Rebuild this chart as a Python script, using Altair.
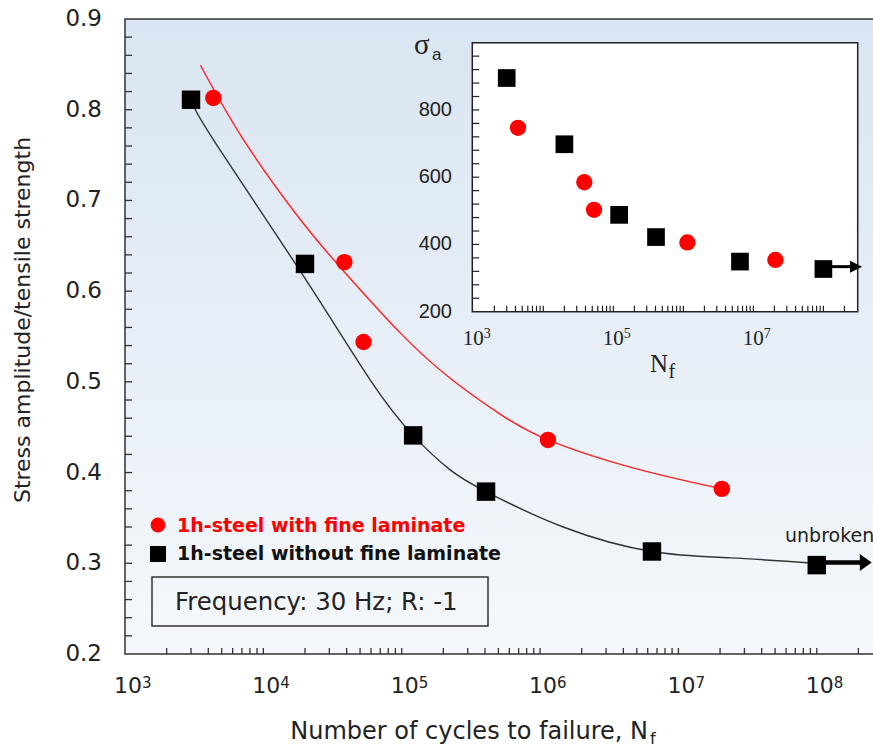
import altair as alt
import pandas as pd

# ---------------- data ----------------
# main chart: stress amplitude / tensile strength vs cycles to failure
fine_cycles = [4.35e3, 3.85e4, 5.3e4, 1.14e6, 2.06e7]
fine_ratio = [0.813, 0.632, 0.544, 0.436, 0.382]
plain_cycles = [3.0e3, 2.0e4, 1.21e5, 4.07e5, 6.44e6, 1.0e8]
plain_ratio = [0.811, 0.630, 0.441, 0.379, 0.313, 0.298]

# fitted curves, sampled along the drawn lines
fine_fit_cycles = [3.51e3, 7.18e3, 1.85e4, 3.91e4, 9.75e4, 2.24e5, 5.14e5, 1.14e6, 4.47e6, 2.06e7]
fine_fit_ratio = [0.849, 0.767, 0.679, 0.620, 0.554, 0.504, 0.4645, 0.436, 0.406, 0.382]
plain_fit_cycles = [3.02e3, 4.35e3, 1.85e4, 5.93e4, 1.21e5, 2.24e5, 4.07e5, 1.47e6, 6.44e6, 2.36e7, 9.7e7]
plain_fit_ratio = [0.811, 0.767, 0.622, 0.502, 0.441, 0.403, 0.379, 0.340, 0.313, 0.306, 0.300]

# "unbroken" run-out arrow (main chart)
arrow_cycles = [1.0e8, 2.2e8]
arrow_ratio = [0.301, 0.301]
arrow_head_cycles = [2.26e8]

# inset: stress amplitude sigma_a (MPa) vs cycles
inset_fine_sigma = [747, 585, 503, 406, 354]
inset_plain_sigma = [895, 698, 488, 422, 349, 327]
inset_arrow_cycles = [1.0e8, 2.8e8]
inset_arrow_sigma = [334, 334]
inset_arrow_head_cycles = [2.93e8]

# axes
main_x_domain = [1e3, 2.55e8]
main_y_domain = [0.2, 0.9]
main_y_major = [0.2, 0.3, 0.4, 0.5, 0.6, 0.7, 0.8, 0.9]
main_y_labels = ["0.2", "0.3", "0.4", "0.5", "0.6", "0.7", "0.8", "0.9"]
main_y_minor = [round(0.22 + 0.02 * i, 2) for i in range(34)]
main_x_decades = [1e3, 1e4, 1e5, 1e6, 1e7, 1e8]
main_x_exponents = ["3", "4", "5", "6", "7", "8"]
main_x_ticks = [m * 10 ** e for e in range(3, 9) for m in range(1, 10)
                if 1e3 < m * 10 ** e <= 2.5e8]

inset_x_domain = [968, 3.09e8]
inset_y_domain = [200, 1000]
inset_y_major = [200, 400, 600, 800]
inset_y_labels = ["200", "400", "600", "800"]
inset_y_minor = list(range(240, 1000, 40))
inset_x_decades = [1e3, 1e5, 1e7]
inset_x_exponents = ["3", "5", "7"]
inset_x_ticks = [m * 10 ** e for e in range(3, 9) for m in range(1, 10)
                 if 1e3 < m * 10 ** e <= 2e8]

legend_labels = ["1h-steel with fine laminate", "1h-steel without fine laminate"]
note_text = "Frequency: 30 Hz; R: -1"
y_title = "Stress amplitude/tensile strength"
x_title = "Number of cycles to failure, N"

# ---------------- layout ----------------
W, H = 748, 635
SANS = "DejaVu Sans"
SERIF = "Liberation Serif"
AX = "#333333"

xs = alt.Scale(type="log", domain=main_x_domain)
ys = alt.Scale(domain=main_y_domain)
IX0, IX1, IY0, IY1 = 347.3, 732.7, 292.7, 23.7
xsi = alt.Scale(type="log", domain=inset_x_domain, range=[IX0, IX1])
ysi = alt.Scale(domain=inset_y_domain, range=[IY0, IY1])

one = pd.DataFrame({"k": [0]})


def X(f, s):
    return alt.X(f, type="quantitative", scale=s, axis=None)


def Y(f, s):
    return alt.Y(f, type="quantitative", scale=s, axis=None)


grad = alt.LinearGradient(
    gradient="linear",
    stops=[alt.GradientStop(offset=0, color="#d9e5f2"),
           alt.GradientStop(offset=1, color="#f5f8fc")],
    x1=0, x2=0, y1=0, y2=1,
)

bg = alt.Chart(one).mark_rect(fill=grad, stroke=AX, strokeWidth=1.5).encode(
    x=alt.value(0), x2=alt.value(W + 10), y=alt.value(0), y2=alt.value(H)
)

fine_fit = pd.DataFrame({"n": fine_fit_cycles, "r": fine_fit_ratio})
plain_fit = pd.DataFrame({"n": plain_fit_cycles, "r": plain_fit_ratio})
fine_df = pd.DataFrame({"n": fine_cycles, "r": fine_ratio})
plain_df = pd.DataFrame({"n": plain_cycles, "r": plain_ratio})

fine_line = alt.Chart(fine_fit).mark_line(
    interpolate="natural", color="#ff2020", strokeWidth=1.4
).encode(x=X("n", xs), y=Y("r", ys), order="n:Q")
plain_line = alt.Chart(plain_fit).mark_line(
    interpolate="natural", color="#333333", strokeWidth=1.4
).encode(x=X("n", xs), y=Y("r", ys), order="n:Q")

arrow = alt.Chart(pd.DataFrame({"n": [arrow_cycles[0]], "n2": [arrow_cycles[1]],
                                "r": [arrow_ratio[0]]})).mark_rule(
    color="#000", strokeWidth=4.5
).encode(x=X("n", xs), x2="n2:Q", y=Y("r", ys))
arrow_head = alt.Chart(pd.DataFrame({"n": arrow_head_cycles, "r": [arrow_ratio[1]]})).mark_point(
    shape="M -0.7 -1 L 0.7 0 L -0.7 1 Z", filled=True, color="#000", opacity=1, size=289
).encode(x=X("n", xs), y=Y("r", ys))

fine_pts = alt.Chart(fine_df).mark_point(
    shape="circle", filled=True, color="#ff0000", opacity=1, size=270
).encode(x=X("n", xs), y=Y("r", ys))
plain_pts = alt.Chart(plain_df).mark_point(
    shape="square", filled=True, color="#000000", opacity=1, size=340
).encode(x=X("n", xs), y=Y("r", ys))

# ticks (inward) and labels of main axes
y_minor = alt.Chart(pd.DataFrame({"v": main_y_minor})).mark_rule(
    color=AX, strokeWidth=1.3
).encode(y=Y("v", ys), x=alt.value(0), x2=alt.value(7))
x_minor = alt.Chart(pd.DataFrame({"v": main_x_ticks})).mark_rule(
    color=AX, strokeWidth=1.3
).encode(x=X("v", xs), y=alt.value(H), y2=alt.value(H - 6))
y_lab = alt.Chart(pd.DataFrame({"v": main_y_major, "t": main_y_labels})).mark_text(
    align="right", baseline="middle", font=SANS, fontSize=23, color="#222"
).encode(y=Y("v", ys), x=alt.value(-23), text="t:N")
x_lab = alt.Chart(pd.DataFrame({"v": main_x_decades})).mark_text(
    align="center", baseline="alphabetic", font=SANS, fontSize=22, color="#222", dx=3
).encode(x=X("v", xs), y=alt.value(H + 39), text=alt.value("10"))
x_exp = alt.Chart(pd.DataFrame({"v": main_x_decades, "t": main_x_exponents})).mark_text(
    align="left", baseline="alphabetic", font=SANS, fontSize=15, color="#222", dx=17
).encode(x=X("v", xs), y=alt.value(H + 34), text="t:N")

y_tit = alt.Chart(one).mark_text(
    angle=270, align="center", baseline="middle", font=SANS, fontSize=22, color="#222"
).encode(x=alt.value(-102), y=alt.value(301), text=alt.value(y_title))
x_tit = alt.Chart(one).mark_text(
    align="right", baseline="alphabetic", font=SANS, fontSize=24, color="#222"
).encode(x=alt.value(523), y=alt.value(H + 85), text=alt.value(x_title))
x_tit_sub = alt.Chart(one).mark_text(
    align="left", baseline="alphabetic", font=SANS, fontSize=16, color="#222"
).encode(x=alt.value(525), y=alt.value(H + 90), text=alt.value("f"))

# legend and note
leg_c = alt.Chart(one).mark_point(shape="circle", filled=True, color="#ff0000",
                                  opacity=1, size=219).encode(
    x=alt.value(33), y=alt.value(506))
leg_s = alt.Chart(one).mark_point(shape="square", filled=True, color="#000",
                                  opacity=1, size=256).encode(
    x=alt.value(33), y=alt.value(535))
leg_t1 = alt.Chart(one).mark_text(align="left", baseline="alphabetic", font=SANS,
                                  fontSize=19, fontWeight="bold", color="#ff0000").encode(
    x=alt.value(52), y=alt.value(513), text=alt.value(legend_labels[0]))
leg_t2 = alt.Chart(one).mark_text(align="left", baseline="alphabetic", font=SANS,
                                  fontSize=19, fontWeight="bold", color="#111").encode(
    x=alt.value(52), y=alt.value(541), text=alt.value(legend_labels[1]))
note_box = alt.Chart(one).mark_rect(fillOpacity=0, stroke=AX, strokeWidth=1.5).encode(
    x=alt.value(27), x2=alt.value(363), y=alt.value(558), y2=alt.value(607))
note_t = alt.Chart(one).mark_text(align="left", baseline="alphabetic", font=SANS,
                                  fontSize=24.4, color="#222").encode(
    x=alt.value(50), y=alt.value(591), text=alt.value(note_text))
unbroken = alt.Chart(one).mark_text(align="left", baseline="alphabetic", font=SANS,
                                    fontSize=19, color="#222").encode(
    x=alt.value(660), y=alt.value(523), text=alt.value("unbroken"))

main = alt.layer(bg, fine_line, plain_line, arrow, arrow_head, fine_pts, plain_pts,
                 y_minor, x_minor, y_lab, x_lab, x_exp, y_tit, x_tit, x_tit_sub,
                 leg_c, leg_s, leg_t1, leg_t2, note_box, note_t, unbroken)

# ---------------- inset ----------------
box = alt.Chart(pd.DataFrame({"x0": [inset_x_domain[0]], "x1": [inset_x_domain[1]],
                              "y0": [inset_y_domain[0]], "y1": [inset_y_domain[1]]})).mark_rect(
    fill="white", stroke="#222", strokeWidth=1.5
).encode(x=X("x0", xsi), x2="x1:Q", y=Y("y0", ysi), y2="y1:Q")

in_fine = alt.Chart(pd.DataFrame({"n": fine_cycles, "s": inset_fine_sigma})).mark_point(
    shape="circle", filled=True, color="#ff0000", opacity=1, size=265
).encode(x=X("n", xsi), y=Y("s", ysi))
in_plain = alt.Chart(pd.DataFrame({"n": plain_cycles, "s": inset_plain_sigma})).mark_point(
    shape="square", filled=True, color="#000", opacity=1, size=313
).encode(x=X("n", xsi), y=Y("s", ysi))
in_arrow = alt.Chart(pd.DataFrame({"n": [inset_arrow_cycles[0]], "n2": [inset_arrow_cycles[1]],
                                   "s": [inset_arrow_sigma[0]]})).mark_rule(
    color="#000", strokeWidth=3
).encode(x=X("n", xsi), x2="n2:Q", y=Y("s", ysi))
in_head = alt.Chart(pd.DataFrame({"n": inset_arrow_head_cycles, "s": [inset_arrow_sigma[1]]})).mark_point(
    shape="M -1 -1 L 1 0 L -1 1 Z", filled=True, color="#000", opacity=1, size=144
).encode(x=X("n", xsi), y=Y("s", ysi))

in_y_minor = alt.Chart(pd.DataFrame({"v": inset_y_minor})).mark_rule(
    color="#222", strokeWidth=1.2
).encode(y=Y("v", ysi), x=alt.value(IX0), x2=alt.value(IX0 + 7))
in_x_minor = alt.Chart(pd.DataFrame({"v": inset_x_ticks})).mark_rule(
    color="#222", strokeWidth=1.2
).encode(x=X("v", xsi), y=alt.value(IY0), y2=alt.value(IY0 - 6))
in_y_lab = alt.Chart(pd.DataFrame({"v": inset_y_major, "t": inset_y_labels})).mark_text(
    align="right", baseline="middle", font="Liberation Sans", fontSize=20, color="#222"
).encode(y=Y("v", ysi), x=alt.value(327), text="t:N")
in_x_lab = alt.Chart(pd.DataFrame({"v": inset_x_decades})).mark_text(
    align="center", baseline="alphabetic", font=SERIF, fontSize=21, color="#222"
).encode(x=X("v", xsi), y=alt.value(IY0 + 33), text=alt.value("10"))
in_x_exp = alt.Chart(pd.DataFrame({"v": inset_x_decades, "t": inset_x_exponents})).mark_text(
    align="left", baseline="alphabetic", font=SERIF, fontSize=14, color="#222", dx=10.5
).encode(x=X("v", xsi), y=alt.value(IY0 + 26), text="t:N")
sig = alt.Chart(one).mark_text(align="left", baseline="alphabetic", font=SERIF,
                               fontSize=29, color="#222").encode(
    x=alt.value(289), y=alt.value(35), text=alt.value("σ"))
sig_sub = alt.Chart(one).mark_text(align="left", baseline="alphabetic", font="Liberation Sans",
                                   fontSize=17, color="#222").encode(
    x=alt.value(307), y=alt.value(41), text=alt.value("a"))
nf = alt.Chart(one).mark_text(align="left", baseline="alphabetic", font=SERIF,
                              fontSize=25, color="#222").encode(
    x=alt.value(525), y=alt.value(353), text=alt.value("N"))
nf_sub = alt.Chart(one).mark_text(align="left", baseline="alphabetic", font=SERIF,
                                  fontSize=20, color="#222").encode(
    x=alt.value(543.5), y=alt.value(359), text=alt.value("f"))

inset = alt.layer(box, in_y_minor, in_x_minor, in_arrow, in_head, in_fine, in_plain,
                  in_y_lab, in_x_lab, in_x_exp, sig, sig_sub, nf, nf_sub)

chart = alt.layer(main, inset).resolve_scale(x="independent", y="independent").properties(
    width=W, height=H,
    padding={"left": 125, "top": 19, "right": 0, "bottom": 94},
    autosize=alt.AutoSizeParams(type="none"),
    background="white",
).configure_view(stroke=None)

chart.save("out.html", embed_options={"renderer": "svg", "actions": False})
